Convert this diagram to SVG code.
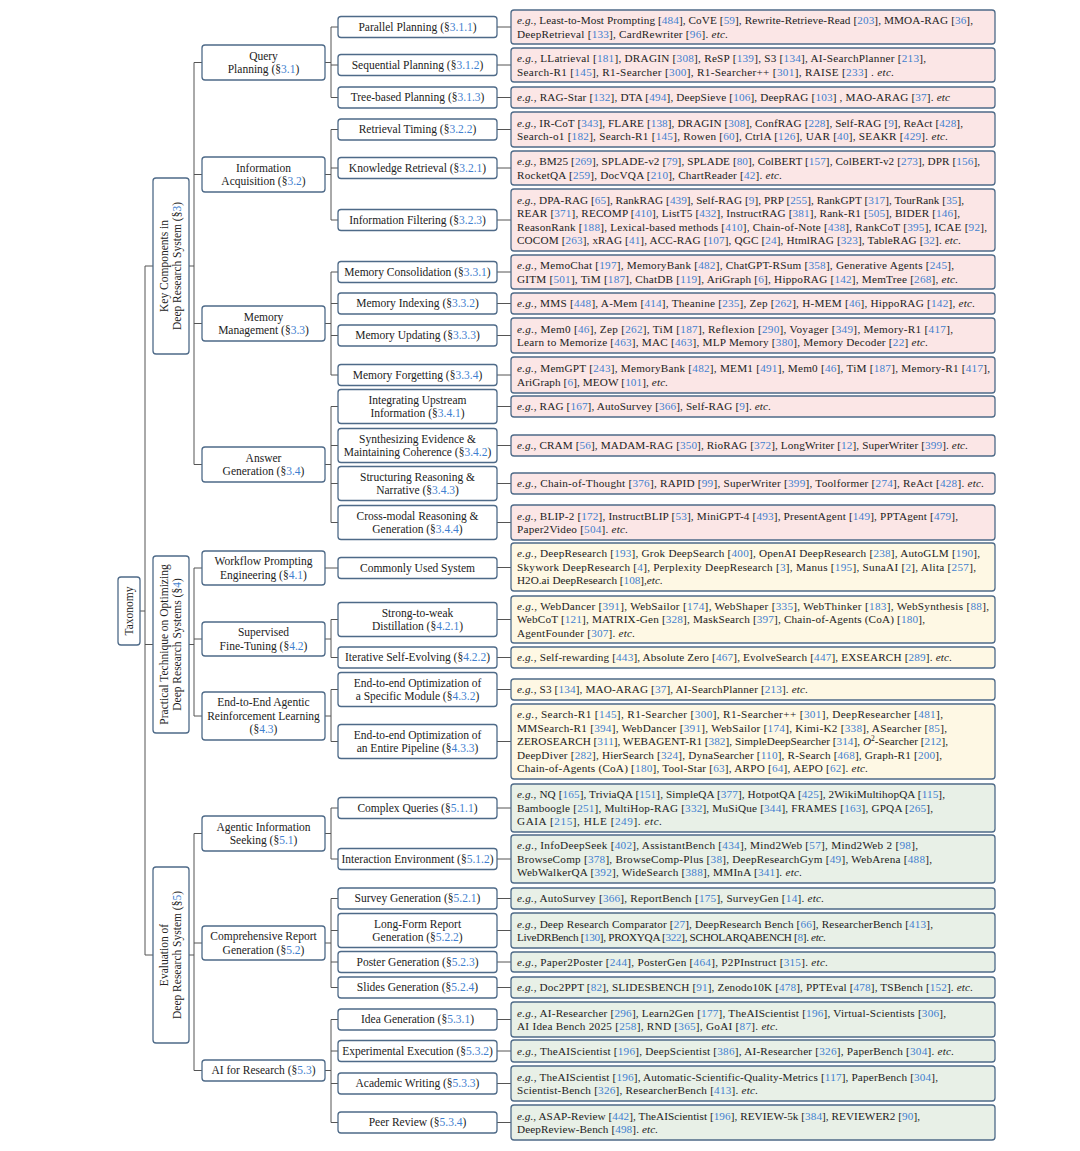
<svg xmlns="http://www.w3.org/2000/svg" width="1080" height="1151" viewBox="0 0 1080 1151">
<style>
.bg{fill:#fff}
.n{fill:#fff;stroke:#4E6A88;stroke-width:1.3}
.l3{fill:#FBE6E6;stroke:#4E6A88;stroke-width:1.3}
.l4{fill:#FEF8E4;stroke:#4E6A88;stroke-width:1.3}
.l5{fill:#E8F0E7;stroke:#4E6A88;stroke-width:1.3}
text{font-family:"Liberation Serif","Times New Roman",serif;font-size:11.5px;fill:#222}
.lf{font-size:11.2px}
.m{text-anchor:middle}
.c{fill:#3F7FCF}
.i{font-style:italic}
.conn{stroke:#555;stroke-width:1;fill:none}
</style>
<rect class="bg" x="0" y="0" width="1080" height="1151"/>
<g id="connectors">
<path class="conn" d="M140,611H145 M145,266V955 M145,266H153 M145,644.5H153 M145,955H153
M189,266H194 M194,62.5V464.5 M194,62.5H202 M194,174.5H202 M194,323.5H202 M194,464.5H202
M189,644.5H194 M194,568V716 M194,568H202 M194,639H202 M194,716H202
M189,955H194 M194,833.5V1070.5 M194,833.5H202 M194,943H202 M194,1070.5H202
M325,62.5H331 M331,27V97.5 M331,27H338 M331,65H338 M331,97.5H338
M325,174.5H331 M331,129.5V220 M331,129.5H338 M331,168H338 M331,220H338
M325,323.5H331 M331,272V375 M331,272H338 M331,303.5H338 M331,335.5H338 M331,375H338
M325,464.5H331 M331,406.5V522.5 M331,406.5H338 M331,445.5H338 M331,483.5H338 M331,522.5H338
M325,568H338
M325,639H331 M331,619.5V657.5 M331,619.5H338 M331,657.5H338
M325,716H331 M331,689.5V741.5 M331,689.5H338 M331,741.5H338
M325,833.5H331 M331,808V859 M331,808H338 M331,859H338
M325,943H331 M331,898.5V987.5 M331,898.5H338 M331,930.5H338 M331,962H338 M331,987.5H338
M325,1070.5H331 M331,1019.5V1122.5 M331,1019.5H338 M331,1051H338 M331,1083.5H338 M331,1122.5H338
M497,27H511 M497,65H511 M497,97.5H511 M497,129.5H511 M497,168H511 M497,220H511 M497,272H511 M497,303.5H511 M497,335.5H511 M497,375H511 M497,406.5H511 M497,445.5H511 M497,483.5H511 M497,522.5H511
M497,567.5H511 M497,619.5H511 M497,657.5H511 M497,689.5H511 M497,741.5H511
M497,808H511 M497,859H511 M497,898.5H511 M497,930.5H511 M497,962H511 M497,987.5H511 M497,1019.5H511 M497,1051H511 M497,1083.5H511 M497,1122.5H511"/>
</g>

<!-- root -->
<g id="taxonomy"><rect class="n" x="118" y="577" width="22" height="68" rx="3"/><text class="m" transform="translate(129,611) rotate(-90)" y="3.9">Taxonomy</text></g>

<!-- level 1 -->
<g id="key-components"><rect class="n" x="153" y="178" width="36" height="176" rx="3"/><text class="m" transform="translate(171,266) rotate(-90)"><tspan x="0" y="-3.2">Key Components in</tspan><tspan x="0" y="10.3">Deep Research System (§<tspan class="c">3</tspan>)</tspan></text></g>
<g id="practical"><rect class="n" x="153" y="556" width="36" height="177" rx="3"/><text class="m" transform="translate(171,644.5) rotate(-90)"><tspan x="0" y="-3.2">Practical Technique on Optimizing</tspan><tspan x="0" y="10.3">Deep Research Systems (§<tspan class="c">4</tspan>)</tspan></text></g>
<g id="evaluation"><rect class="n" x="153" y="867" width="36" height="176" rx="3"/><text class="m" transform="translate(171,955) rotate(-90)"><tspan x="0" y="-3.2">Evaluation of</tspan><tspan x="0" y="10.3">Deep Research System (§<tspan class="c">5</tspan>)</tspan></text></g>

<!-- level 2 -->
<g id="query-planning"><rect class="n" x="202" y="45" width="123" height="35" rx="3"/><text class="m"><tspan x="263.5" y="59.5">Query</tspan><tspan x="263.5" y="73">Planning (§<tspan class="c">3.1</tspan>)</tspan></text></g>
<g id="information-acquisition"><rect class="n" x="202" y="157" width="123" height="35" rx="3"/><text class="m"><tspan x="263.5" y="171.5">Information</tspan><tspan x="263.5" y="185">Acquisition (§<tspan class="c">3.2</tspan>)</tspan></text></g>
<g id="memory-management"><rect class="n" x="202" y="306" width="123" height="35" rx="3"/><text class="m"><tspan x="263.5" y="320.5">Memory</tspan><tspan x="263.5" y="334">Management (§<tspan class="c">3.3</tspan>)</tspan></text></g>
<g id="answer-generation"><rect class="n" x="202" y="447" width="123" height="35" rx="3"/><text class="m"><tspan x="263.5" y="461.5">Answer</tspan><tspan x="263.5" y="475">Generation (§<tspan class="c">3.4</tspan>)</tspan></text></g>
<g id="workflow"><rect class="n" x="202" y="551" width="123" height="34" rx="3"/><text class="m"><tspan x="263.5" y="565">Workflow Prompting</tspan><tspan x="263.5" y="578.5">Engineering (§<tspan class="c">4.1</tspan>)</tspan></text></g>
<g id="sft"><rect class="n" x="202" y="622" width="123" height="34" rx="3"/><text class="m"><tspan x="263.5" y="636">Supervised</tspan><tspan x="263.5" y="649.5">Fine-Tuning (§<tspan class="c">4.2</tspan>)</tspan></text></g>
<g id="e2e-rl"><rect class="n" x="202" y="692" width="123" height="48" rx="3"/><text class="m"><tspan x="263.5" y="706.2">End-to-End Agentic</tspan><tspan x="263.5" y="719.7">Reinforcement Learning</tspan><tspan x="263.5" y="733.2">(§<tspan class="c">4.3</tspan>)</tspan></text></g>
<g id="agentic-seeking"><rect class="n" x="202" y="816" width="123" height="35" rx="3"/><text class="m"><tspan x="263.5" y="830.5">Agentic Information</tspan><tspan x="263.5" y="844">Seeking (§<tspan class="c">5.1</tspan>)</tspan></text></g>
<g id="report-generation"><rect class="n" x="202" y="926" width="123" height="34" rx="3"/><text class="m"><tspan x="263.5" y="940">Comprehensive Report</tspan><tspan x="263.5" y="953.5">Generation (§<tspan class="c">5.2</tspan>)</tspan></text></g>
<g id="ai-research"><rect class="n" x="202" y="1060" width="123" height="21" rx="3"/><text class="m" x="263.5" y="1074.4">AI for Research (§<tspan class="c">5.3</tspan>)</text></g>

<!-- level 3 -->
<g id="parallel"><rect class="n" x="338" y="16.5" width="159" height="21" rx="3"/><text class="m" x="417.5" y="30.9">Parallel Planning (§<tspan class="c">3.1.1</tspan>)</text></g>
<g id="sequential"><rect class="n" x="338" y="54.5" width="159" height="21" rx="3"/><text class="m" x="417.5" y="68.9">Sequential Planning (§<tspan class="c">3.1.2</tspan>)</text></g>
<g id="tree"><rect class="n" x="338" y="87" width="159" height="21" rx="3"/><text class="m" x="417.5" y="101.4">Tree-based Planning (§<tspan class="c">3.1.3</tspan>)</text></g>
<g id="timing"><rect class="n" x="338" y="119" width="159" height="21" rx="3"/><text class="m" x="417.5" y="133.4">Retrieval Timing (§<tspan class="c">3.2.2</tspan>)</text></g>
<g id="knowledge"><rect class="n" x="338" y="157.5" width="159" height="21" rx="3"/><text class="m" x="417.5" y="171.9">Knowledge Retrieval (§<tspan class="c">3.2.1</tspan>)</text></g>
<g id="filtering"><rect class="n" x="338" y="209.5" width="159" height="21" rx="3"/><text class="m" x="417.5" y="223.9">Information Filtering (§<tspan class="c">3.2.3</tspan>)</text></g>
<g id="consolidation"><rect class="n" x="338" y="261.5" width="159" height="21" rx="3"/><text class="m" x="417.5" y="275.9">Memory Consolidation (§<tspan class="c">3.3.1</tspan>)</text></g>
<g id="indexing"><rect class="n" x="338" y="293" width="159" height="21" rx="3"/><text class="m" x="417.5" y="307.4">Memory Indexing (§<tspan class="c">3.3.2</tspan>)</text></g>
<g id="updating"><rect class="n" x="338" y="325" width="159" height="21" rx="3"/><text class="m" x="417.5" y="339.4">Memory Updating (§<tspan class="c">3.3.3</tspan>)</text></g>
<g id="forgetting"><rect class="n" x="338" y="364.5" width="159" height="21" rx="3"/><text class="m" x="417.5" y="378.9">Memory Forgetting (§<tspan class="c">3.3.4</tspan>)</text></g>
<g id="integrating"><rect class="n" x="338" y="389.5" width="159" height="34" rx="3"/><text class="m"><tspan x="417.5" y="403.5">Integrating Upstream</tspan><tspan x="417.5" y="417">Information (§<tspan class="c">3.4.1</tspan>)</tspan></text></g>
<g id="synthesizing"><rect class="n" x="338" y="428.5" width="159" height="34" rx="3"/><text class="m"><tspan x="417.5" y="442.5">Synthesizing Evidence &amp;</tspan><tspan x="417.5" y="456">Maintaining Coherence (§<tspan class="c">3.4.2</tspan>)</tspan></text></g>
<g id="structuring"><rect class="n" x="338" y="466.5" width="159" height="34" rx="3"/><text class="m"><tspan x="417.5" y="480.5">Structuring Reasoning &amp;</tspan><tspan x="417.5" y="494">Narrative (§<tspan class="c">3.4.3</tspan>)</tspan></text></g>
<g id="crossmodal"><rect class="n" x="338" y="505.5" width="159" height="34" rx="3"/><text class="m"><tspan x="417.5" y="519.5">Cross-modal Reasoning &amp;</tspan><tspan x="417.5" y="533">Generation (§<tspan class="c">3.4.4</tspan>)</tspan></text></g>
<g id="commonly"><rect class="n" x="338" y="557.5" width="159" height="21" rx="3"/><text class="m" x="417.5" y="571.9">Commonly Used System</text></g>
<g id="strong-weak"><rect class="n" x="338" y="602.5" width="159" height="34" rx="3"/><text class="m"><tspan x="417.5" y="616.5">Strong-to-weak</tspan><tspan x="417.5" y="630">Distillation (§<tspan class="c">4.2.1</tspan>)</tspan></text></g>
<g id="iterative"><rect class="n" x="338" y="647" width="159" height="21" rx="3"/><text class="m" x="417.5" y="661.4">Iterative Self-Evolving (§<tspan class="c">4.2.2</tspan>)</text></g>
<g id="specific-module"><rect class="n" x="338" y="672.5" width="159" height="34" rx="3"/><text class="m"><tspan x="417.5" y="686.5">End-to-end Optimization of</tspan><tspan x="417.5" y="700">a Specific Module (§<tspan class="c">4.3.2</tspan>)</tspan></text></g>
<g id="entire-pipeline"><rect class="n" x="338" y="724.5" width="159" height="34" rx="3"/><text class="m"><tspan x="417.5" y="738.5">End-to-end Optimization of</tspan><tspan x="417.5" y="752">an Entire Pipeline (§<tspan class="c">4.3.3</tspan>)</tspan></text></g>
<g id="complex"><rect class="n" x="338" y="797.5" width="159" height="21" rx="3"/><text class="m" x="417.5" y="811.9">Complex Queries (§<tspan class="c">5.1.1</tspan>)</text></g>
<g id="interaction"><rect class="n" x="338" y="848.5" width="159" height="21" rx="3"/><text class="m" x="417.5" y="862.9">Interaction Environment (§<tspan class="c">5.1.2</tspan>)</text></g>
<g id="survey"><rect class="n" x="338" y="888" width="159" height="21" rx="3"/><text class="m" x="417.5" y="902.4">Survey Generation (§<tspan class="c">5.2.1</tspan>)</text></g>
<g id="longform"><rect class="n" x="338" y="913.5" width="159" height="34" rx="3"/><text class="m"><tspan x="417.5" y="927.5">Long-Form Report</tspan><tspan x="417.5" y="941">Generation (§<tspan class="c">5.2.2</tspan>)</tspan></text></g>
<g id="poster"><rect class="n" x="338" y="951.5" width="159" height="21" rx="3"/><text class="m" x="417.5" y="965.9">Poster Generation (§<tspan class="c">5.2.3</tspan>)</text></g>
<g id="slides"><rect class="n" x="338" y="977" width="159" height="21" rx="3"/><text class="m" x="417.5" y="991.4">Slides Generation (§<tspan class="c">5.2.4</tspan>)</text></g>
<g id="idea"><rect class="n" x="338" y="1009" width="159" height="21" rx="3"/><text class="m" x="417.5" y="1023.4">Idea Generation (§<tspan class="c">5.3.1</tspan>)</text></g>
<g id="experimental"><rect class="n" x="338" y="1040.5" width="159" height="21" rx="3"/><text class="m" x="417.5" y="1054.9">Experimental Execution (§<tspan class="c">5.3.2</tspan>)</text></g>
<g id="academic"><rect class="n" x="338" y="1073" width="159" height="21" rx="3"/><text class="m" x="417.5" y="1087.4">Academic Writing (§<tspan class="c">5.3.3</tspan>)</text></g>
<g id="peer"><rect class="n" x="338" y="1112" width="159" height="21" rx="3"/><text class="m" x="417.5" y="1126.4">Peer Review (§<tspan class="c">5.3.4</tspan>)</text></g>

<!-- leaves -->
<g id="leaf-parallel"><rect class="l3" x="511" y="10" width="484" height="34" rx="3"/>
<text class="lf" x="517" y="24" textLength="456" lengthAdjust="spacing"><tspan class="i">e.g.</tspan>, Least-to-Most Prompting [<tspan class="c">484</tspan>], CoVE [<tspan class="c">59</tspan>], Rewrite-Retrieve-Read [<tspan class="c">203</tspan>], MMOA-RAG [<tspan class="c">36</tspan>],</text>
<text class="lf" x="517" y="37.5" textLength="211" lengthAdjust="spacing">DeepRetrieval [<tspan class="c">133</tspan>], CardRewriter [<tspan class="c">96</tspan>]. <tspan class="i">etc.</tspan></text></g>
<g id="leaf-sequential"><rect class="l3" x="511" y="48" width="484" height="34" rx="3"/>
<text class="lf" x="517" y="62" textLength="409" lengthAdjust="spacing"><tspan class="i">e.g.</tspan>, LLatrieval [<tspan class="c">181</tspan>], DRAGIN [<tspan class="c">308</tspan>], ReSP [<tspan class="c">139</tspan>], S3 [<tspan class="c">134</tspan>], AI-SearchPlanner [<tspan class="c">213</tspan>],</text>
<text class="lf" x="517" y="75.5" textLength="377" lengthAdjust="spacing">Search-R1 [<tspan class="c">145</tspan>], R1-Searcher [<tspan class="c">300</tspan>], R1-Searcher++ [<tspan class="c">301</tspan>], RAISE [<tspan class="c">233</tspan>] . <tspan class="i">etc.</tspan></text></g>
<g id="leaf-tree"><rect class="l3" x="511" y="87" width="484" height="21" rx="3"/>
<text class="lf" x="517" y="101.4" textLength="433" lengthAdjust="spacing"><tspan class="i">e.g.</tspan>, RAG-Star [<tspan class="c">132</tspan>], DTA [<tspan class="c">494</tspan>], DeepSieve [<tspan class="c">106</tspan>], DeepRAG [<tspan class="c">103</tspan>] , MAO-ARAG [<tspan class="c">37</tspan>]. <tspan class="i">etc</tspan></text></g>
<g id="leaf-timing"><rect class="l3" x="511" y="112" width="484" height="35" rx="3"/>
<text class="lf" x="517" y="126.5" textLength="446" lengthAdjust="spacing"><tspan class="i">e.g.</tspan>, IR-CoT [<tspan class="c">343</tspan>], FLARE [<tspan class="c">138</tspan>], DRAGIN [<tspan class="c">308</tspan>], ConfRAG [<tspan class="c">228</tspan>], Self-RAG [<tspan class="c">9</tspan>], ReAct [<tspan class="c">428</tspan>],</text>
<text class="lf" x="517" y="140" textLength="431" lengthAdjust="spacing">Search-o1 [<tspan class="c">182</tspan>], Search-R1 [<tspan class="c">145</tspan>], Rowen [<tspan class="c">60</tspan>], CtrlA [<tspan class="c">126</tspan>], UAR [<tspan class="c">40</tspan>], SEAKR [<tspan class="c">429</tspan>]. <tspan class="i">etc.</tspan></text></g>
<g id="leaf-knowledge"><rect class="l3" x="511" y="151" width="484" height="34" rx="3"/>
<text class="lf" x="517" y="165" textLength="463" lengthAdjust="spacing"><tspan class="i">e.g.</tspan>, BM25 [<tspan class="c">269</tspan>], SPLADE-v2 [<tspan class="c">79</tspan>], SPLADE [<tspan class="c">80</tspan>], ColBERT [<tspan class="c">157</tspan>], ColBERT-v2 [<tspan class="c">273</tspan>], DPR [<tspan class="c">156</tspan>],</text>
<text class="lf" x="517" y="178.5" textLength="265" lengthAdjust="spacing">RocketQA [<tspan class="c">259</tspan>], DocVQA [<tspan class="c">210</tspan>], ChartReader [<tspan class="c">42</tspan>]. <tspan class="i">etc.</tspan></text></g>
<g id="leaf-filtering"><rect class="l3" x="511" y="189" width="484" height="62" rx="3"/>
<text class="lf" x="517" y="203.5" textLength="447" lengthAdjust="spacing"><tspan class="i">e.g.</tspan>, DPA-RAG [<tspan class="c">65</tspan>], RankRAG [<tspan class="c">439</tspan>], Self-RAG [<tspan class="c">9</tspan>], PRP [<tspan class="c">255</tspan>], RankGPT [<tspan class="c">317</tspan>], TourRank [<tspan class="c">35</tspan>],</text>
<text class="lf" x="517" y="217" textLength="443" lengthAdjust="spacing">REAR [<tspan class="c">371</tspan>], RECOMP [<tspan class="c">410</tspan>], ListT5 [<tspan class="c">432</tspan>], InstructRAG [<tspan class="c">381</tspan>], Rank-R1 [<tspan class="c">505</tspan>], BIDER [<tspan class="c">146</tspan>],</text>
<text class="lf" x="517" y="230.5" textLength="470" lengthAdjust="spacing">ReasonRank [<tspan class="c">188</tspan>], Lexical-based methods [<tspan class="c">410</tspan>], Chain-of-Note [<tspan class="c">438</tspan>], RankCoT [<tspan class="c">395</tspan>], ICAE [<tspan class="c">92</tspan>],</text>
<text class="lf" x="517" y="244" textLength="444" lengthAdjust="spacing">COCOM [<tspan class="c">263</tspan>], xRAG [<tspan class="c">41</tspan>], ACC-RAG [<tspan class="c">107</tspan>], QGC [<tspan class="c">24</tspan>], HtmlRAG [<tspan class="c">323</tspan>], TableRAG [<tspan class="c">32</tspan>]. <tspan class="i">etc.</tspan></text></g>
<g id="leaf-consolidation"><rect class="l3" x="511" y="255" width="484" height="34" rx="3"/>
<text class="lf" x="517" y="269" textLength="437" lengthAdjust="spacing"><tspan class="i">e.g.</tspan>, MemoChat [<tspan class="c">197</tspan>], MemoryBank [<tspan class="c">482</tspan>], ChatGPT-RSum [<tspan class="c">358</tspan>], Generative Agents [<tspan class="c">245</tspan>],</text>
<text class="lf" x="517" y="282.5" textLength="441" lengthAdjust="spacing">GITM [<tspan class="c">501</tspan>], TiM [<tspan class="c">187</tspan>], ChatDB [<tspan class="c">119</tspan>], AriGraph [<tspan class="c">6</tspan>], HippoRAG [<tspan class="c">142</tspan>], MemTree [<tspan class="c">268</tspan>], <tspan class="i">etc.</tspan></text></g>
<g id="leaf-indexing"><rect class="l3" x="511" y="293" width="484" height="21" rx="3"/>
<text class="lf" x="517" y="307.4" textLength="458" lengthAdjust="spacing"><tspan class="i">e.g.</tspan>, MMS [<tspan class="c">448</tspan>], A-Mem [<tspan class="c">414</tspan>], Theanine [<tspan class="c">235</tspan>], Zep [<tspan class="c">262</tspan>], H-MEM [<tspan class="c">46</tspan>], HippoRAG [<tspan class="c">142</tspan>], <tspan class="i">etc.</tspan></text></g>
<g id="leaf-updating"><rect class="l3" x="511" y="318" width="484" height="35" rx="3"/>
<text class="lf" x="517" y="332.5" textLength="436" lengthAdjust="spacing"><tspan class="i">e.g.</tspan>, Mem0 [<tspan class="c">46</tspan>], Zep [<tspan class="c">262</tspan>], TiM [<tspan class="c">187</tspan>], Reflexion [<tspan class="c">290</tspan>], Voyager [<tspan class="c">349</tspan>], Memory-R1 [<tspan class="c">417</tspan>],</text>
<text class="lf" x="517" y="346" textLength="411" lengthAdjust="spacing">Learn to Memorize [<tspan class="c">463</tspan>], MAC [<tspan class="c">463</tspan>], MLP Memory [<tspan class="c">380</tspan>], Memory Decoder [<tspan class="c">22</tspan>] <tspan class="i">etc.</tspan></text></g>
<g id="leaf-forgetting"><rect class="l3" x="511" y="357" width="484" height="36" rx="3"/>
<text class="lf" x="517" y="372" textLength="473" lengthAdjust="spacing"><tspan class="i">e.g.</tspan>, MemGPT [<tspan class="c">243</tspan>], MemoryBank [<tspan class="c">482</tspan>], MEM1 [<tspan class="c">491</tspan>], Mem0 [<tspan class="c">46</tspan>], TiM [<tspan class="c">187</tspan>], Memory-R1 [<tspan class="c">417</tspan>],</text>
<text class="lf" x="517" y="385.5" textLength="151" lengthAdjust="spacing">AriGraph [<tspan class="c">6</tspan>], MEOW [<tspan class="c">101</tspan>], <tspan class="i">etc.</tspan></text></g>
<g id="leaf-integrating"><rect class="l3" x="511" y="396" width="484" height="21" rx="3"/>
<text class="lf" x="517" y="410.4" textLength="254" lengthAdjust="spacing"><tspan class="i">e.g.</tspan>, RAG [<tspan class="c">167</tspan>], AutoSurvey [<tspan class="c">366</tspan>], Self-RAG [<tspan class="c">9</tspan>]. <tspan class="i">etc.</tspan></text></g>
<g id="leaf-synthesizing"><rect class="l3" x="511" y="435" width="484" height="21" rx="3"/>
<text class="lf" x="517" y="449.4" textLength="451" lengthAdjust="spacing"><tspan class="i">e.g.</tspan>, CRAM [<tspan class="c">56</tspan>], MADAM-RAG [<tspan class="c">350</tspan>], RioRAG [<tspan class="c">372</tspan>], LongWriter [<tspan class="c">12</tspan>], SuperWriter [<tspan class="c">399</tspan>]. <tspan class="i">etc.</tspan></text></g>
<g id="leaf-structuring"><rect class="l3" x="511" y="473" width="484" height="21" rx="3"/>
<text class="lf" x="517" y="487.4" textLength="467" lengthAdjust="spacing"><tspan class="i">e.g.</tspan>, Chain-of-Thought [<tspan class="c">376</tspan>], RAPID [<tspan class="c">99</tspan>], SuperWriter [<tspan class="c">399</tspan>], Toolformer [<tspan class="c">274</tspan>], ReAct [<tspan class="c">428</tspan>]. <tspan class="i">etc.</tspan></text></g>
<g id="leaf-crossmodal"><rect class="l3" x="511" y="505" width="484" height="35" rx="3"/>
<text class="lf" x="517" y="519.5" textLength="441" lengthAdjust="spacing"><tspan class="i">e.g.</tspan>, BLIP-2 [<tspan class="c">172</tspan>], InstructBLIP [<tspan class="c">53</tspan>], MiniGPT-4 [<tspan class="c">493</tspan>], PresentAgent [<tspan class="c">149</tspan>], PPTAgent [<tspan class="c">479</tspan>],</text>
<text class="lf" x="517" y="533" textLength="111" lengthAdjust="spacing">Paper2Video [<tspan class="c">504</tspan>]. <tspan class="i">etc.</tspan></text></g>
<g id="leaf-commonly"><rect class="l4" x="511" y="543" width="484" height="48" rx="3"/>
<text class="lf" x="517" y="557.2" textLength="463" lengthAdjust="spacing"><tspan class="i">e.g.</tspan>, DeepResearch [<tspan class="c">193</tspan>], Grok DeepSearch [<tspan class="c">400</tspan>], OpenAI DeepResearch [<tspan class="c">238</tspan>], AutoGLM [<tspan class="c">190</tspan>],</text>
<text class="lf" x="517" y="570.7" textLength="459" lengthAdjust="spacing">Skywork DeepResearch [<tspan class="c">4</tspan>], Perplexity DeepResearch [<tspan class="c">3</tspan>], Manus [<tspan class="c">195</tspan>], SunaAI [<tspan class="c">2</tspan>], Alita [<tspan class="c">257</tspan>],</text>
<text class="lf" x="517" y="584.2">H2O.ai DeepResearch [<tspan class="c">108</tspan>],<tspan class="i">etc.</tspan></text></g>
<g id="leaf-strong-weak"><rect class="l4" x="511" y="596" width="484" height="47" rx="3"/>
<text class="lf" x="517" y="609.7" textLength="472" lengthAdjust="spacing"><tspan class="i">e.g.</tspan>, WebDancer [<tspan class="c">391</tspan>], WebSailor [<tspan class="c">174</tspan>], WebShaper [<tspan class="c">335</tspan>], WebThinker [<tspan class="c">183</tspan>], WebSynthesis [<tspan class="c">88</tspan>],</text>
<text class="lf" x="517" y="623.2" textLength="408" lengthAdjust="spacing">WebCoT [<tspan class="c">121</tspan>], MATRIX-Gen [<tspan class="c">328</tspan>], MaskSearch [<tspan class="c">397</tspan>], Chain-of-Agents (CoA) [<tspan class="c">180</tspan>],</text>
<text class="lf" x="517" y="636.7" textLength="118" lengthAdjust="spacing">AgentFounder [<tspan class="c">307</tspan>]. <tspan class="i">etc.</tspan></text></g>
<g id="leaf-iterative"><rect class="l4" x="511" y="647" width="484" height="21" rx="3"/>
<text class="lf" x="517" y="661.4" textLength="435" lengthAdjust="spacing"><tspan class="i">e.g.</tspan>, Self-rewarding [<tspan class="c">443</tspan>], Absolute Zero [<tspan class="c">467</tspan>], EvolveSearch [<tspan class="c">447</tspan>], EXSEARCH [<tspan class="c">289</tspan>]. <tspan class="i">etc.</tspan></text></g>
<g id="leaf-specific"><rect class="l4" x="511" y="679" width="484" height="21" rx="3"/>
<text class="lf" x="517" y="693.4" textLength="291" lengthAdjust="spacing"><tspan class="i">e.g.</tspan>, S3 [<tspan class="c">134</tspan>], MAO-ARAG [<tspan class="c">37</tspan>], AI-SearchPlanner [<tspan class="c">213</tspan>]. <tspan class="i">etc.</tspan></text></g>
<g id="leaf-entire"><rect class="l4" x="511" y="704" width="484" height="75" rx="3"/>
<text class="lf" x="517" y="718.2" textLength="426" lengthAdjust="spacing"><tspan class="i">e.g.</tspan>, Search-R1 [<tspan class="c">145</tspan>], R1-Searcher [<tspan class="c">300</tspan>], R1-Searcher++ [<tspan class="c">301</tspan>], DeepResearcher [<tspan class="c">481</tspan>],</text>
<text class="lf" x="517" y="731.7" textLength="430" lengthAdjust="spacing">MMSearch-R1 [<tspan class="c">394</tspan>], WebDancer [<tspan class="c">391</tspan>], WebSailor [<tspan class="c">174</tspan>], Kimi-K2 [<tspan class="c">338</tspan>], ASearcher [<tspan class="c">85</tspan>],</text>
<text class="lf" x="517" y="745.2" textLength="431" lengthAdjust="spacing">ZEROSEARCH [<tspan class="c">311</tspan>], WEBAGENT-R1 [<tspan class="c">382</tspan>], SimpleDeepSearcher [<tspan class="c">314</tspan>], <tspan class="i">O</tspan><tspan dy="-4" font-size="7.5">2</tspan><tspan dy="4">-Searcher [</tspan><tspan class="c">212</tspan>],</text>
<text class="lf" x="517" y="758.7" textLength="425" lengthAdjust="spacing">DeepDiver [<tspan class="c">282</tspan>], HierSearch [<tspan class="c">324</tspan>], DynaSearcher [<tspan class="c">110</tspan>], R-Search [<tspan class="c">468</tspan>], Graph-R1 [<tspan class="c">200</tspan>],</text>
<text class="lf" x="517" y="772.2" textLength="351" lengthAdjust="spacing">Chain-of-Agents (CoA) [<tspan class="c">180</tspan>], Tool-Star [<tspan class="c">63</tspan>], ARPO [<tspan class="c">64</tspan>], AEPO [<tspan class="c">62</tspan>]. <tspan class="i">etc.</tspan></text></g>
<g id="leaf-complex"><rect class="l5" x="511" y="784" width="484" height="48" rx="3"/>
<text class="lf" x="517" y="798.2" textLength="428" lengthAdjust="spacing"><tspan class="i">e.g.</tspan>, NQ [<tspan class="c">165</tspan>], TriviaQA [<tspan class="c">151</tspan>], SimpleQA [<tspan class="c">377</tspan>], HotpotQA [<tspan class="c">425</tspan>], 2WikiMultihopQA [<tspan class="c">115</tspan>],</text>
<text class="lf" x="517" y="811.7" textLength="416" lengthAdjust="spacing">Bamboogle [<tspan class="c">251</tspan>], MultiHop-RAG [<tspan class="c">332</tspan>], MuSiQue [<tspan class="c">344</tspan>], FRAMES [<tspan class="c">163</tspan>], GPQA [<tspan class="c">265</tspan>],</text>
<text class="lf" x="517" y="825.2" textLength="145" lengthAdjust="spacing">GAIA [<tspan class="c">215</tspan>], HLE [<tspan class="c">249</tspan>]. <tspan class="i">etc.</tspan></text></g>
<g id="leaf-interaction"><rect class="l5" x="511" y="835" width="484" height="48" rx="3"/>
<text class="lf" x="517" y="849.2" textLength="401" lengthAdjust="spacing"><tspan class="i">e.g.</tspan>, InfoDeepSeek [<tspan class="c">402</tspan>], AssistantBench [<tspan class="c">434</tspan>], Mind2Web [<tspan class="c">57</tspan>], Mind2Web 2 [<tspan class="c">98</tspan>],</text>
<text class="lf" x="517" y="862.7" textLength="415" lengthAdjust="spacing">BrowseComp [<tspan class="c">378</tspan>], BrowseComp-Plus [<tspan class="c">38</tspan>], DeepResearchGym [<tspan class="c">49</tspan>], WebArena [<tspan class="c">488</tspan>],</text>
<text class="lf" x="517" y="876.2" textLength="285" lengthAdjust="spacing">WebWalkerQA [<tspan class="c">392</tspan>], WideSearch [<tspan class="c">388</tspan>], MMInA [<tspan class="c">341</tspan>]. <tspan class="i">etc.</tspan></text></g>
<g id="leaf-survey"><rect class="l5" x="511" y="888" width="484" height="21" rx="3"/>
<text class="lf" x="517" y="902.4" textLength="307" lengthAdjust="spacing"><tspan class="i">e.g.</tspan>, AutoSurvey [<tspan class="c">366</tspan>], ReportBench [<tspan class="c">175</tspan>], SurveyGen [<tspan class="c">14</tspan>]. <tspan class="i">etc.</tspan></text></g>
<g id="leaf-longform"><rect class="l5" x="511" y="913" width="484" height="35" rx="3"/>
<text class="lf" x="517" y="927.5" textLength="416" lengthAdjust="spacing"><tspan class="i">e.g.</tspan>, Deep Research Comparator [<tspan class="c">27</tspan>], DeepResearch Bench [<tspan class="c">66</tspan>], ResearcherBench [<tspan class="c">413</tspan>],</text>
<text class="lf" x="517" y="941" textLength="309" lengthAdjust="spacing">LiveDRBench [<tspan class="c">130</tspan>], PROXYQA [<tspan class="c">322</tspan>], SCHOLARQABENCH [<tspan class="c">8</tspan>]. <tspan class="i">etc.</tspan></text></g>
<g id="leaf-poster"><rect class="l5" x="511" y="952" width="484" height="20" rx="3"/>
<text class="lf" x="517" y="965.9" textLength="311" lengthAdjust="spacing"><tspan class="i">e.g.</tspan>, Paper2Poster [<tspan class="c">244</tspan>], PosterGen [<tspan class="c">464</tspan>], P2PInstruct [<tspan class="c">315</tspan>]. <tspan class="i">etc.</tspan></text></g>
<g id="leaf-slides"><rect class="l5" x="511" y="977" width="484" height="21" rx="3"/>
<text class="lf" x="517" y="991.4" textLength="456" lengthAdjust="spacing"><tspan class="i">e.g.</tspan>, Doc2PPT [<tspan class="c">82</tspan>], SLIDESBENCH [<tspan class="c">91</tspan>], Zenodo10K [<tspan class="c">478</tspan>], PPTEval [<tspan class="c">478</tspan>], TSBench [<tspan class="c">152</tspan>]. <tspan class="i">etc.</tspan></text></g>
<g id="leaf-idea"><rect class="l5" x="511" y="1002" width="484" height="35" rx="3"/>
<text class="lf" x="517" y="1016.5" textLength="429" lengthAdjust="spacing"><tspan class="i">e.g.</tspan>, AI-Researcher [<tspan class="c">296</tspan>], Learn2Gen [<tspan class="c">177</tspan>], TheAIScientist [<tspan class="c">196</tspan>], Virtual-Scientists [<tspan class="c">306</tspan>],</text>
<text class="lf" x="517" y="1030" textLength="261" lengthAdjust="spacing">AI Idea Bench 2025 [<tspan class="c">258</tspan>], RND [<tspan class="c">365</tspan>], GoAI [<tspan class="c">87</tspan>]. <tspan class="i">etc.</tspan></text></g>
<g id="leaf-experimental"><rect class="l5" x="511" y="1040" width="484" height="22" rx="3"/>
<text class="lf" x="517" y="1054.9" textLength="437" lengthAdjust="spacing"><tspan class="i">e.g.</tspan>, TheAIScientist [<tspan class="c">196</tspan>], DeepScientist [<tspan class="c">386</tspan>], AI-Researcher [<tspan class="c">326</tspan>], PaperBench [<tspan class="c">304</tspan>]. <tspan class="i">etc.</tspan></text></g>
<g id="leaf-academic"><rect class="l5" x="511" y="1066" width="484" height="35" rx="3"/>
<text class="lf" x="517" y="1080.5" textLength="421" lengthAdjust="spacing"><tspan class="i">e.g.</tspan>, TheAIScientist [<tspan class="c">196</tspan>], Automatic-Scientific-Quality-Metrics [<tspan class="c">117</tspan>], PaperBench [<tspan class="c">304</tspan>],</text>
<text class="lf" x="517" y="1094" textLength="241" lengthAdjust="spacing">Scientist-Bench [<tspan class="c">326</tspan>], ResearcherBench [<tspan class="c">413</tspan>]. <tspan class="i">etc.</tspan></text></g>
<g id="leaf-peer"><rect class="l5" x="511" y="1105" width="484" height="35" rx="3"/>
<text class="lf" x="517" y="1119.5" textLength="403" lengthAdjust="spacing"><tspan class="i">e.g.</tspan>, ASAP-Review [<tspan class="c">442</tspan>], TheAIScientist [<tspan class="c">196</tspan>], REVIEW-5k [<tspan class="c">384</tspan>], REVIEWER2 [<tspan class="c">90</tspan>],</text>
<text class="lf" x="517" y="1133" textLength="141" lengthAdjust="spacing">DeepReview-Bench [<tspan class="c">498</tspan>]. <tspan class="i">etc.</tspan></text></g>
</svg>
